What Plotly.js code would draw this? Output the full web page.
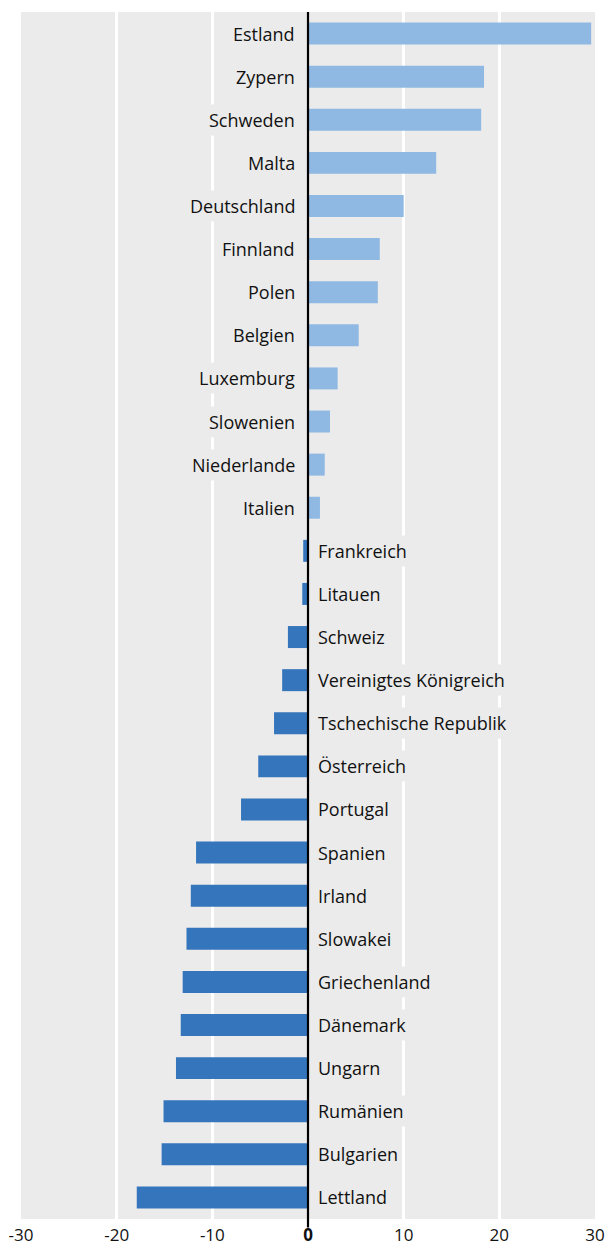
<!DOCTYPE html>
<html>
<head>
<meta charset="utf-8">
<script src="https://cdn.plot.ly/plotly-3.0.1.min.js"></script>
<style>html,body{margin:0;padding:0;background:#fff}#chart{width:608px;height:1248px}</style>
</head>
<body>
<div id="chart"></div>
<script>
const countries = ["Estland","Zypern","Schweden","Malta","Deutschland","Finnland","Polen","Belgien","Luxemburg","Slowenien","Niederlande","Italien","Frankreich","Litauen","Schweiz","Vereinigtes Königreich","Tschechische Republik","Österreich","Portugal","Spanien","Irland","Slowakei","Griechenland","Dänemark","Ungarn","Rumänien","Bulgarien","Lettland"];
const values = [29.6,18.4,18.1,13.4,10.0,7.5,7.3,5.3,3.1,2.3,1.75,1.25,-0.5,-0.6,-2.1,-2.7,-3.55,-5.2,-7.0,-11.7,-12.25,-12.7,-13.1,-13.3,-13.8,-15.1,-15.3,-17.9];
const tickVals = [-30,-20,-10,0,10,20,30];
const tickLabels = ["-30","-20","-10","<b>0</b>","10","20","30"];

const POS = "#8FB9E3", NEG = "#3475BB", BG = "#EBEBEB";
const FONT = "Open Sans, sans-serif";

const trace = {
  type: "bar",
  orientation: "h",
  x: values,
  y: countries,
  marker: {color: values.map(v => v >= 0 ? POS : NEG)},
  hoverinfo: "x+y"
};

const annotations = countries.map((c, i) => ({
  x: 0, y: c, xref: "x", yref: "y",
  text: c, showarrow: false,
  xanchor: values[i] >= 0 ? "right" : "left",
  xshift: values[i] >= 0 ? -9 : 6,
  bgcolor: BG, borderpad: 3,
  font: {family: FONT, size: 18, color: "#111111"}
}));

const layout = {
  width: 608, height: 1248,
  margin: {l: 21, r: 13, t: 12, b: 29},
  paper_bgcolor: "#ffffff",
  plot_bgcolor: BG,
  showlegend: false,
  bargap: 0.49,
  font: {family: FONT, size: 17, color: "#111111"},
  xaxis: {
    range: [-30, 30],
    tickvals: tickVals, ticktext: tickLabels,
    showgrid: true, gridcolor: "#ffffff", gridwidth: 2.5,
    zeroline: false,
    ticks: "", ticklen: 0,
    ticklabelstandoff: 4,
    tickfont: {family: FONT, size: 17, color: "#111111"},
    fixedrange: true
  },
  yaxis: {
    type: "category",
    autorange: "reversed",
    showticklabels: false,
    showgrid: false, zeroline: false, ticks: "",
    fixedrange: true
  },
  shapes: [{
    type: "line", xref: "x", yref: "paper",
    x0: 0, x1: 0, y0: -0.007, y1: 1,
    line: {color: "#000000", width: 2.2},
    layer: "above"
  }],
  annotations: annotations
};

Plotly.newPlot("chart", [trace], layout, {displayModeBar: false, staticPlot: true});
</script>
</body>
</html>
